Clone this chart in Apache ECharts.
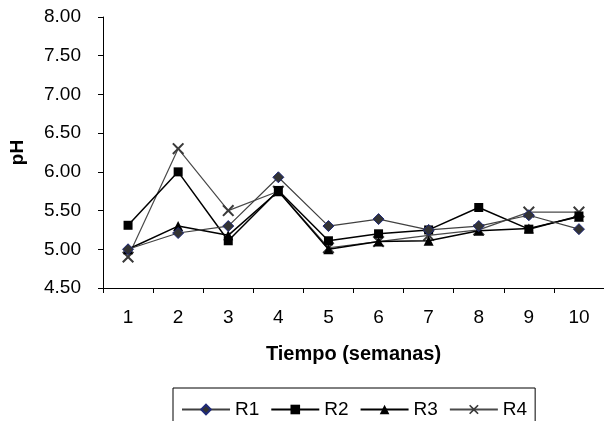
<!DOCTYPE html>
<html>
<head>
<meta charset="utf-8">
<script src="https://cdn.jsdelivr.net/npm/echarts@6/dist/echarts.min.js"></script>
<style>html,body{margin:0;padding:0;background:#fff;}#c{width:604px;height:421px;}</style>
</head>
<body>
<div id="c"></div>
<script>
const categories = ['1','2','3','4','5','6','7','8','9','10'];
const R1 = [5.00, 5.21, 5.30, 5.93, 5.30, 5.39, 5.25, 5.30, 5.44, 5.26];
const R2 = [5.31, 6.00, 5.11, 5.76, 5.11, 5.20, 5.25, 5.54, 5.26, 5.43];
const R3 = [5.00, 5.30, 5.18, 5.75, 5.00, 5.10, 5.11, 5.24, 5.27, 5.42];
const R4 = [4.90, 6.30, 5.50, 5.75, 5.02, 5.10, 5.18, 5.25, 5.48, 5.48];
const yTicks = ['4.50','5.00','5.50','6.00','6.50','7.00','7.50','8.00'];

const xPath = 'path://M0,1.2L1.2,0L5,3.8L8.8,0L10,1.2L6.2,5L10,8.8L8.8,10L5,6.2L1.2,10L0,8.8L3.8,5Z';
const font = 'Arial, "Liberation Sans", sans-serif';

const chart = echarts.init(document.getElementById('c'), null, {renderer:'canvas'});
chart.setOption({
  animation: false,
  backgroundColor: '#fff',
  textStyle: {fontFamily: font},
  grid: {left: 100, top: 17, width: 506, height: 271, containLabel: false},
  xAxis: {
    type: 'category', data: categories, boundaryGap: true,
    name: 'Tiempo (semanas)', nameLocation: 'middle', nameGap: 56,
    nameTextStyle: {fontSize: 20, fontWeight: 'bold', color: '#000', fontFamily: font},
    axisLine: {lineStyle: {color: '#000', width: 1}},
    axisTick: {show: true, alignWithLabel: false, length: 5, lineStyle: {color: '#000'}},
    axisLabel: {fontSize: 19, color: '#000', margin: 20, fontFamily: font},
    splitLine: {show: false}
  },
  yAxis: {
    type: 'value', min: 4.5, max: 8, interval: 0.5,
    name: 'pH', nameLocation: 'middle', nameGap: 76, nameRotate: 90,
    nameTextStyle: {fontSize: 19, fontWeight: 'bold', color: '#000', fontFamily: font},
    axisLine: {show: true, lineStyle: {color: '#000', width: 1}},
    axisTick: {show: true, length: 5, lineStyle: {color: '#000'}},
    axisLabel: {fontSize: 19, color: '#000', margin: 22, fontFamily: font,
      formatter: v => yTicks.find(t => Math.abs(parseFloat(t) - v) < 1e-6) || v.toFixed(2)},
    splitLine: {show: false}
  },
  legend: {
    left: 173, top: 388, orient: 'horizontal',
    padding: [12, 8, 12, 8], itemGap: 11, itemWidth: 48, itemHeight: 12,
    borderColor: '#000', borderWidth: 1,
    textStyle: {fontSize: 19, color: '#000', fontFamily: font, padding: [0,0,0,0]},
    data: ['R1','R2','R3','R4']
  },
  series: [
    {name: 'R1', type: 'line', data: R1, symbol: 'diamond', symbolSize: 11,
     lineStyle: {color: '#404040', width: 1.2},
     itemStyle: {color: '#333333', borderColor: '#1f2a78', borderWidth: 1}, z: 5},
    {name: 'R2', type: 'line', data: R2, symbol: 'rect', symbolSize: 9,
     lineStyle: {color: '#000', width: 1.5},
     itemStyle: {color: '#000', borderColor: '#000', borderWidth: 0}, z: 4},
    {name: 'R3', type: 'line', data: R3, symbol: 'triangle', symbolSize: 10,
     lineStyle: {color: '#000', width: 1.5},
     itemStyle: {color: '#000', borderColor: '#000', borderWidth: 0}, z: 3},
    {name: 'R4', type: 'line', data: R4, symbol: xPath, symbolSize: 12,
     lineStyle: {color: '#4a4a4a', width: 1.2},
     itemStyle: {color: '#3a3a3a', borderWidth: 0}, z: 2}
  ]
});
</script>
</body>
</html>
